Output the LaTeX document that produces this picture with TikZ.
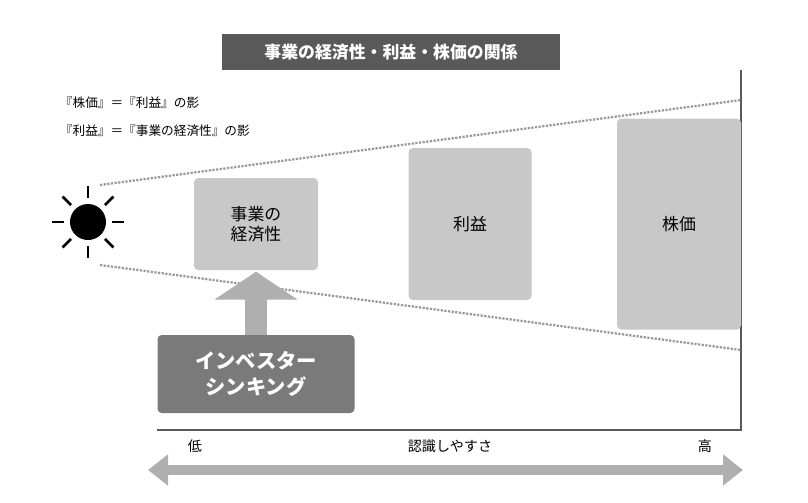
\documentclass[tikz,border=0pt]{standalone}
\usepackage{fontspec}
\setmainfont{Noto Sans CJK JP}
\usepackage{tikz}
\usetikzlibrary{arrows.meta,positioning,calc}
\definecolor{titlegray}{HTML}{595959}
\definecolor{boxgray}{HTML}{C8C8C8}
\definecolor{darkbox}{HTML}{7A7A7A}
\definecolor{arrowgray}{HTML}{AFAFAF}
\tikzset{
  level/.style={rectangle, rounded corners=3pt, fill=boxgray, align=center, font=\large},
  title/.style={rectangle, fill=titlegray, text=white, font=\large\bfseries},
  note/.style={anchor=west, font=\small},
  shadow/.style={gray!80, densely dotted, line width=1.6pt},
  ray/.style={line width=1.8pt}
}
\begin{document}
\begin{tikzpicture}[x=0.025cm, y=-0.025cm, >=Stealth]
  \useasboundingbox (0,0) rectangle (808,502);

  % Title and notes
  \node[title, minimum width=338*0.025cm, minimum height=36*0.025cm] (heading) at (391,52) {事業の経済性・利益・株価の関係};
  \node[note] (note1) at (55,103) {『株価』＝『利益』の影};
  \node[note] (note2) at (55,131) {『利益』＝『事業の経済性』の影};

  % Axes
  \coordinate (top) at (741,70);
  \coordinate (corner) at (741,430);
  \coordinate (left) at (157,430);
  \draw[gray!70!black, line width=1pt] (top) -- (corner) -- (left);

  % Sun
  \node[circle, fill=black, minimum size=36*0.025cm, inner sep=0pt] (sun) at (88,222) {};
  \foreach \a in {0,45,...,315}
    \draw[ray] ($(sun)+(\a:24)$) -- ($(sun)+(\a:36)$);

  % Shadow lines
  \coordinate (upperend) at (741,100);
  \coordinate (lowerend) at (741,350);
  \draw[shadow] (100,185) -- (upperend);
  \draw[shadow] (100,265) -- (lowerend);

  % Boxes
  \node[level, minimum width=124*0.025cm, minimum height=92*0.025cm] (economy) at (256,224) {事業の\\経済性};
  \node[level, minimum width=123*0.025cm, minimum height=152*0.025cm] (profit) at (470,224) {利益};
  \node[level, minimum width=124*0.025cm, minimum height=211*0.025cm] (stock) at (679,224) {株価};

  % Investor thinking
  \node[rectangle, rounded corners=3pt, fill=darkbox, text=white, font=\Large\bfseries, align=center,
        minimum width=197*0.025cm, minimum height=78*0.025cm] (investor) at (256,374) {インベスター\\シンキング};
  \draw[-{Triangle[width=82*0.025cm, length=28*0.025cm]}, arrowgray, line width=22*0.025cm]
    (investor.north) -- ([yshift=-1]economy.south);

  % Recognition axis
  \coordinate (lowend) at (148,470);
  \coordinate (highend) at (743,470);
  \draw[{Triangle[width=30*0.025cm, length=20*0.025cm]}-{Triangle[width=30*0.025cm, length=20*0.025cm]}, arrowgray, line width=10*0.025cm]
    (lowend) -- (highend);
  \node (low) at (195,446) {低};
  \node (ease) at (450,446) {認識しやすさ};
  \node (high) at (705,446) {高};
\end{tikzpicture}
\end{document}
